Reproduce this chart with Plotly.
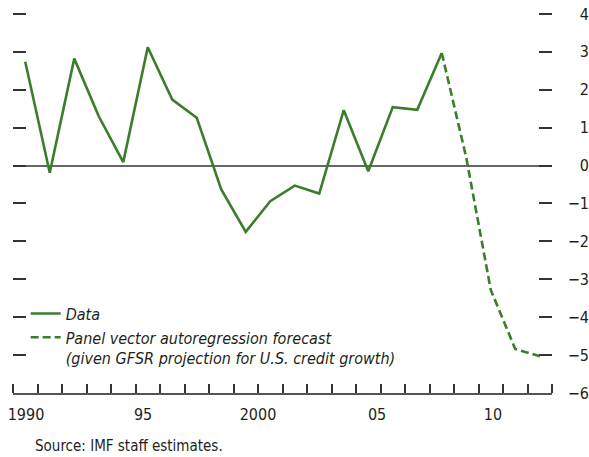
import plotly.graph_objects as go

# Historical series (percent) and the panel VAR forecast path
data_years = list(range(1990, 2008))
data_values = [2.74, -0.19, 2.82, 1.30, 0.09, 3.12, 1.74, 1.26, -0.63, -1.75,
               -0.94, -0.53, -0.74, 1.46, -0.15, 1.54, 1.47, 2.97]

forecast_years = [2007, 2008, 2009, 2010, 2011]
forecast_values = [2.97, 0.21, -3.28, -4.84, -5.03]

x_tick_labels = ["1990", "95", "2000", "05", "10"]
x_label_pos = [1990.03, 1994.81, 1999.50, 2004.36, 2009.09]
year_edges = [y - 0.5 for y in range(1990, 2013)]

y_ticks = list(range(-6, 5))
y_range = [-6, 4.05]

GREEN = "#3a7d2b"
FONT = "Liberation Sans Narrow, DejaVu Sans Condensed, Arial Narrow, sans-serif"
TEXT = "#231f20"

fig = go.Figure()
fig.add_trace(go.Scatter(
    x=data_years, y=data_values, mode="lines", name="Data",
    line=dict(color=GREEN, width=2.6),
))
fig.add_trace(go.Scatter(
    x=forecast_years, y=forecast_values, mode="lines",
    name="Panel vector autoregression forecast<br>(given GFSR projection for U.S. credit growth)",
    line=dict(color=GREEN, width=2.6, dash="8px,4px"),
))
# empty trace so the right-hand label axis gets its own subplot
fig.add_trace(go.Scatter(x=[None], y=[None], yaxis="y2", showlegend=False,
                         hoverinfo="skip"))

fig.update_layout(
    width=589, height=457,
    margin=dict(l=13, r=0, t=12, b=64),
    paper_bgcolor="white", plot_bgcolor="white",
    font=dict(family=FONT, size=16, color=TEXT),
    showlegend=True,
    legend=dict(
        x=0.022, y=0.253, xanchor="left", yanchor="top",
        bgcolor="rgba(0,0,0,0)", valign="top",
        font=dict(family=FONT, size=16, color=TEXT, style="italic"),
        tracegroupgap=0, itemwidth=30,
    ),
    xaxis=dict(
        domain=[0, 539 / 576],
        range=[1989.5, 2011.5],
        tickmode="array", tickvals=x_label_pos, ticktext=x_tick_labels,
        ticks="", showgrid=False, zeroline=False,
        showline=True, linecolor="#555555", linewidth=2,
        tickfont=dict(size=16), ticklabelstandoff=6,
        minor=dict(tickmode="array", tickvals=year_edges, ticks="inside",
                   ticklen=9, tickwidth=1.5, tickcolor="#333333", showgrid=False),
    ),
    yaxis=dict(
        range=y_range, tickmode="array", tickvals=y_ticks,
        ticks="inside", ticklen=13, tickwidth=1.5, tickcolor="#333333",
        mirror="ticks", showline=False, showticklabels=False, showgrid=False,
        zeroline=True, zerolinecolor="#666666", zerolinewidth=2,
    ),
    yaxis2=dict(
        overlaying="y", anchor="free", position=1.0, side="left",
        range=y_range, tickmode="array", tickvals=y_ticks,
        ticks="", showline=False, showgrid=False, zeroline=False,
        tickfont=dict(size=16),
    ),
)

fig.add_annotation(
    text="Source: IMF staff estimates.", xref="paper", yref="paper",
    x=20 / 576, y=-53 / 381, xanchor="left", yanchor="middle",
    showarrow=False, font=dict(family=FONT, size=15, color=TEXT),
)

fig.write_html("out.html")
